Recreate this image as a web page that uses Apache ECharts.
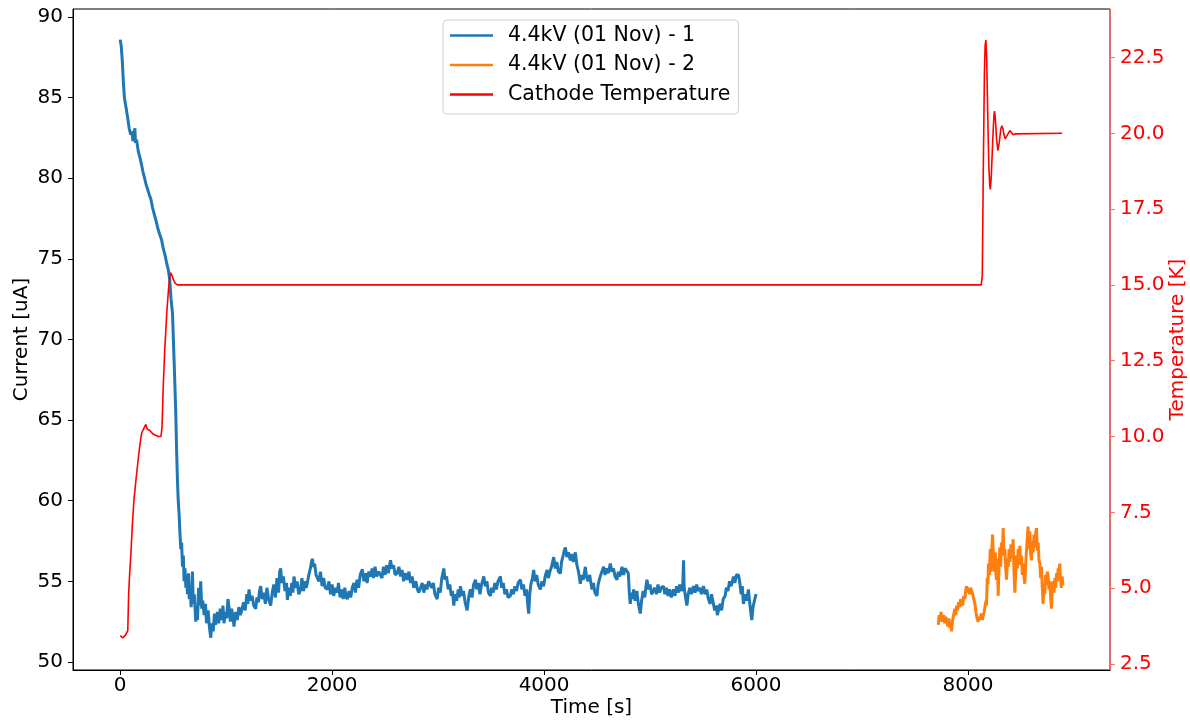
<!DOCTYPE html>
<html>
<head>
<meta charset="utf-8">
<title>Current and Cathode Temperature</title>
<script src="https://cdn.jsdelivr.net/npm/echarts@6/dist/echarts.min.js"></script>
<style>
  html, body { margin: 0; padding: 0; background: #fff; }
  #main { width: 1190px; height: 723px; }
</style>
</head>
<body>
<div id="main"></div>
<script>
// tick labels
const timeTicks = [0, 2000, 4000, 6000, 8000];
const currentTicks = [50, 55, 60, 65, 70, 75, 80, 85, 90];
const tempTicks = [2.5, 5, 7.5, 10, 12.5, 15, 17.5, 20, 22.5];

// 4.4kV (01 Nov) - 1 : [time s, current uA]
const run1 = [
  [0,88.6],[10,88.2],[20,87.3],[30,86.0],[40,85.0],[55,84.4],[70,83.8],[85,83.1],[100,82.7],[112,82.9],
  [120,82.3],[130,82.8],[139,83.1],[145,82.2],[155,82.4],[170,81.7],[186,81.3],[200,80.9],[215,80.4],[227,80.1],
  [245,79.6],[260,79.3],[274,79.0],[290,78.7],[305,78.2],[320,77.8],[337,77.4],[355,76.9],[374,76.5],[390,76.2],
  [405,75.7],[421,75.3],[440,74.7],[455,74.3],[468,73.7],[480,72.5],[494,71.6],[510,68.5],[525,65.4],[533,63.0],
  [541,61.2],[548,60.0],[556,59.2],[564,58.0],[572,57.0],[580,57.4],[588,55.9],[596,56.6],[603,55.0],[612,55.8],
  [620,54.6],[628,55.2],[635,54.2],[645,55.5],[652,53.9],[660,54.5],[670,53.4],[682,55.6],[690,53.6],[700,54.2],
  [713,52.5],[722,53.2],[730,52.6],[740,54.6],[750,53.5],[760,55.0],[770,53.3],[780,53.8],[792,52.9],[805,53.6],
  [815,52.4],[830,53.2],[843,52.1],[855,51.5],[865,52.4],[878,51.9],[890,53.0],[900,52.3],[918,53.1],[930,52.4],
  [945,53.3],[960,52.6],[970,53.5],[980,52.4],[993,53.1],[1005,52.7],[1017,53.9],[1027,53.4],[1040,52.5],[1052,53.3],
  [1064,52.8],[1074,52.2],[1090,53.1],[1105,52.6],[1120,53.4],[1135,52.9],[1153,53.0],[1165,53.7],[1180,53.2],[1195,54.2],
  [1205,53.6],[1216,54.5],[1230,53.8],[1245,54.1],[1260,53.5],[1279,53.3],[1290,54.0],[1305,53.7],[1315,54.4],[1326,54.7],
  [1340,53.9],[1355,54.3],[1370,53.6],[1385,54.6],[1400,53.9],[1420,53.5],[1435,54.3],[1450,54.8],[1465,54.0],[1480,55.2],
  [1495,54.3],[1505,55.6],[1515,55.8],[1525,54.9],[1540,55.3],[1555,54.4],[1570,54.9],[1578,53.85],[1590,54.6],[1605,54.1],
  [1620,54.9],[1630,54.3],[1640,55.3],[1655,54.6],[1670,55.0],[1685,54.2],[1703,54.5],[1715,55.2],[1730,54.4],[1745,55.0],
  [1755,54.6],[1766,54.9],[1780,55.4],[1795,55.8],[1805,56.2],[1813,56.4],[1825,55.9],[1835,56.1],[1848,55.4],[1860,55.5],
  [1875,55.0],[1890,55.6],[1905,54.7],[1920,55.2],[1935,54.6],[1955,54.5],[1970,55.0],[1985,54.2],[2000,54.8],[2015,54.1],
  [2030,54.6],[2049,54.3],[2060,54.9],[2075,54.0],[2090,54.5],[2105,53.9],[2120,54.6],[2130,54.1],[2143,53.9],[2160,54.4],
  [2175,54.0],[2190,54.6],[2206,54.9],[2220,54.3],[2235,55.1],[2250,54.6],[2265,55.4],[2285,55.75],[2300,55.0],[2315,55.5],
  [2330,54.9],[2345,55.6],[2363,55.3],[2378,55.8],[2390,55.2],[2405,55.9],[2420,55.3],[2440,55.6],[2457,55.7],[2470,55.2],
  [2485,55.9],[2500,55.4],[2515,56.0],[2530,55.5],[2551,56.3],[2565,55.8],[2580,56.0],[2595,55.4],[2614,55.5],[2630,55.9],
  [2646,55.3],[2660,55.7],[2675,55.0],[2690,55.5],[2709,55.1],[2725,55.6],[2740,54.9],[2755,55.3],[2770,54.6],[2790,55.0],
  [2805,54.5],[2818,54.3],[2834,54.4],[2850,54.9],[2865,54.3],[2880,54.8],[2895,54.5],[2910,55.0],[2928,55.1],[2940,54.6],
  [2955,54.9],[2970,54.2],[2991,53.9],[3005,54.6],[3020,54.3],[3035,55.2],[3054,55.8],[3065,55.1],[3080,55.3],[3095,54.5],
  [3110,54.8],[3125,54.1],[3135,54.4],[3148,53.5],[3160,54.2],[3175,53.8],[3190,54.5],[3200,54.0],[3211,54.7],[3225,54.1],
  [3240,54.4],[3255,53.7],[3274,53.2],[3290,54.1],[3305,54.5],[3320,54.0],[3335,54.8],[3353,55.1],[3365,54.5],[3380,54.9],
  [3395,54.2],[3410,54.8],[3431,55.3],[3445,54.7],[3460,55.0],[3475,54.3],[3494,54.1],[3505,54.6],[3520,54.3],[3535,54.9],
  [3550,54.5],[3565,55.0],[3588,55.3],[3600,54.6],[3615,54.9],[3630,54.2],[3645,54.5],[3660,54.0],[3682,54.1],[3695,54.5],
  [3710,54.2],[3725,54.7],[3740,54.4],[3755,54.9],[3777,55.1],[3790,54.5],[3805,54.8],[3820,54.1],[3835,54.5],[3845,53.6],
  [3855,53.0],[3865,54.2],[3875,54.8],[3890,55.2],[3902,55.7],[3915,55.0],[3930,55.4],[3945,54.8],[3965,54.5],[3980,55.0],
  [3995,54.7],[4010,55.3],[4028,55.7],[4040,55.2],[4055,55.6],[4070,55.9],[4091,56.5],[4105,55.8],[4120,56.2],[4135,55.6],
  [4154,55.5],[4165,56.2],[4180,56.6],[4190,56.9],[4201,57.1],[4215,56.5],[4230,56.8],[4248,56.3],[4260,56.7],[4275,56.2],
  [4295,56.8],[4310,56.0],[4325,55.6],[4342,54.85],[4355,55.4],[4370,55.1],[4389,55.9],[4400,55.3],[4415,55.0],[4430,55.4],
  [4452,54.5],[4465,54.9],[4480,54.3],[4499,54.1],[4510,54.8],[4525,55.2],[4540,55.5],[4562,55.9],[4575,55.4],[4590,55.8],
  [4605,55.5],[4625,56.1],[4640,55.6],[4655,55.8],[4670,55.3],[4688,55.1],[4700,55.6],[4715,55.3],[4735,55.9],[4750,55.4],
  [4765,55.8],[4782,55.7],[4795,55.5],[4805,54.2],[4813,53.6],[4825,54.3],[4835,53.9],[4845,54.5],[4860,53.8],[4875,54.4],
  [4890,53.6],[4908,53.0],[4920,53.8],[4935,54.4],[4950,54.0],[4960,54.6],[4971,55.1],[4985,54.5],[5000,54.8],[5015,54.2],
  [5033,54.1],[5045,54.6],[5060,54.2],[5075,54.8],[5090,54.3],[5105,54.6],[5127,54.7],[5140,54.2],[5155,54.6],[5170,54.1],
  [5185,54.5],[5200,54.0],[5222,54.5],[5235,54.1],[5250,54.7],[5265,54.3],[5280,54.8],[5295,54.4],[5308,54.6],[5316,56.3],
  [5322,54.6],[5335,54.0],[5348,53.5],[5360,54.2],[5375,54.6],[5390,54.2],[5410,54.7],[5425,54.3],[5440,54.8],[5455,54.4],
  [5470,54.6],[5485,54.2],[5504,54.7],[5520,54.2],[5535,54.5],[5550,53.9],[5567,53.6],[5580,54.2],[5595,53.7],[5610,53.2],
  [5625,53.5],[5635,52.9],[5646,53.0],[5660,53.6],[5675,53.2],[5690,53.9],[5709,54.1],[5720,54.6],[5735,54.4],[5750,55.0],
  [5765,54.7],[5787,55.3],[5800,54.9],[5815,55.4],[5834,55.4],[5845,55.0],[5860,54.2],[5870,54.7],[5881,53.6],[5895,54.2],
  [5910,53.8],[5928,54.5],[5940,53.7],[5950,53.1],[5960,52.6],[5972,53.4],[5985,53.8],[6000,54.2]
];

// 4.4kV (01 Nov) - 2
const run2 = [
  [7720,52.3],[7728,52.9],[7736,52.5],[7745,53.1],[7751,53.0],[7760,52.5],[7770,52.9],[7780,52.4],[7790,52.8],[7798,52.6],
  [7810,52.2],[7820,52.7],[7830,52.1],[7838,52.4],[7845,51.9],[7855,52.6],[7865,52.9],[7875,53.3],[7885,52.9],[7892,53.5],
  [7902,53.2],[7912,53.7],[7922,53.4],[7930,53.9],[7939,53.8],[7950,53.5],[7960,54.1],[7970,53.9],[7980,54.5],[7987,54.7],
  [7995,54.3],[8005,54.6],[8015,54.2],[8025,54.6],[8034,54.5],[8045,54.2],[8055,53.9],[8065,53.6],[8075,53.1],[8085,52.7],
  [8096,52.5],[8105,52.8],[8115,52.6],[8125,53.0],[8135,52.6],[8143,52.7],[8152,53.1],[8162,53.0],[8170,53.8],[8175,53.5],
  [8182,55.2],[8188,54.8],[8194,56.1],[8202,55.4],[8210,57.0],[8218,55.6],[8226,57.2],[8232,57.9],[8240,56.3],[8250,55.6],
  [8258,56.8],[8264,55.4],[8269,55.1],[8277,56.4],[8285,54.1],[8293,56.0],[8300,57.1],[8308,55.9],[8316,57.4],[8324,56.6],
  [8332,58.3],[8340,56.7],[8348,57.0],[8356,55.8],[8364,55.1],[8372,56.4],[8380,55.9],[8388,57.0],[8396,56.2],[8405,57.3],
  [8414,56.4],[8426,57.6],[8434,55.6],[8442,54.3],[8450,55.5],[8458,56.6],[8466,55.8],[8474,57.0],[8482,56.3],[8489,57.2],
  [8497,56.0],[8505,56.6],[8513,55.4],[8520,56.1],[8528,55.3],[8536,54.85],[8544,56.0],[8552,56.9],[8560,57.7],[8567,58.4],
  [8575,57.0],[8583,58.1],[8591,56.7],[8599,56.3],[8607,57.5],[8615,56.8],[8623,57.9],[8631,57.1],[8639,58.0],[8646,58.3],
  [8654,56.9],[8662,57.4],[8670,56.3],[8678,56.1],[8686,55.2],[8694,55.9],[8701,54.6],[8709,53.6],[8717,54.8],[8725,54.2],
  [8733,55.4],[8741,54.8],[8748,55.6],[8756,55.3],[8764,54.5],[8772,55.0],[8780,54.0],[8788,53.3],[8796,54.6],[8804,55.0],
  [8812,54.3],[8820,55.2],[8828,54.6],[8835,55.5],[8843,55.0],[8851,55.8],[8858,55.3],[8866,56.1],[8872,55.2],[8880,54.6],
  [8888,55.3],[8897,54.75]
];

// Cathode Temperature : [time s, K]
const cathodeTemp = [
  [0,3.43],[15,3.38],[25,3.36],[35,3.42],[50,3.45],[65,3.48],[72,3.6],[80,4.8],[90,5.5],[101,6.1],
  [115,7.1],[130,7.9],[150,8.6],[175,9.4],[195,9.95],[204,10.13],[215,10.2],[228,10.25],[242,10.4],[255,10.25],
  [265,10.3],[280,10.2],[292,10.25],[305,10.1],[318,10.15],[330,10.05],[345,10.1],[360,10.0],[372,10.05],[385,10.0],
  [395,10.3],[405,11.5],[420,12.8],[440,14.1],[455,14.8],[468,15.3],[478,15.4],[490,15.3],[505,15.15],[520,15.05],
  [541,15.0],[8125,15.0],[8135,15.3],[8145,19.0],[8155,22.0],[8162,22.9],[8169,23.08],[8177,22.4],[8187,20.5],[8197,18.9],
  [8205,18.3],[8211,18.15],[8220,18.6],[8235,19.9],[8245,20.6],[8251,20.73],[8258,20.5],[8270,19.8],[8282,19.43],[8295,19.7],
  [8310,20.15],[8320,20.25],[8330,20.15],[8340,19.95],[8351,19.82],[8365,19.85],[8380,20.0],[8395,20.09],[8410,20.03],[8426,19.95],
  [8445,19.98],[8460,20.02],[8888,20.0]
];

const chart = echarts.init(document.getElementById('main'));
const font = 'DejaVu Sans';
const fs = 20;

const option = {
  animation: false,
  backgroundColor: '#fff',
  grid: {
    left: 73, right: 80, top: 9, bottom: 53,
    show: true, borderColor: '#000', borderWidth: 1,
    outerBoundsMode: 'none'
  },
  legend: {
    orient: 'vertical',
    left: 443, top: 20,
    icon: 'rect',
    itemWidth: 43, itemHeight: 2.5,
    itemGap: 8.5,
    padding: [5, 8, 9, 7],
    borderColor: '#d0d0d0', borderWidth: 1, borderRadius: 4,
    backgroundColor: 'rgba(255,255,255,0.8)',
    textStyle: { fontFamily: font, fontSize: 20.5, color: '#000', padding: [0, 0, 0, 10] },
    data: ['4.4kV (01 Nov) - 1', '4.4kV (01 Nov) - 2', 'Cathode Temperature']
  },
  xAxis: {
    type: 'value',
    min: -445, max: 9340,
    name: 'Time [s]', nameLocation: 'middle', nameGap: 28, nameMoveOverlap: false,
    nameTextStyle: { fontFamily: font, fontSize: fs, color: '#000' },
    axisLine: { show: true, onZero: false, lineStyle: { color: '#000' } },
    axisTick: { show: true, length: 5, customValues: timeTicks, lineStyle: { color: '#000' } },
    axisLabel: {
      customValues: timeTicks, margin: 6, fontFamily: font, fontSize: fs, color: '#000',
      formatter: v => String(v)
    },
    splitLine: { show: false }
  },
  yAxis: [
    {
      type: 'value',
      min: 49.5, max: 90.5,
      name: 'Current [uA]', nameLocation: 'middle', nameGap: 41, nameMoveOverlap: false,
      nameTextStyle: { fontFamily: font, fontSize: fs, color: '#000' },
      axisLine: { show: true, onZero: false, lineStyle: { color: '#000' } },
      axisTick: { show: true, length: 5, customValues: currentTicks, lineStyle: { color: '#000' } },
      axisLabel: { customValues: currentTicks, margin: 10, fontFamily: font, fontSize: fs, color: '#000' },
      splitLine: { show: false }
    },
    {
      type: 'value',
      position: 'right',
      min: 2.3, max: 24.1,
      name: 'Temperature [K]', nameLocation: 'middle', nameGap: 58, nameMoveOverlap: false,
      nameTextStyle: { fontFamily: font, fontSize: fs, color: 'red' },
      axisLine: { show: true, onZero: false, lineStyle: { color: '#ff6a6a', width: 1.5 } },
      axisTick: { show: true, length: 5, customValues: tempTicks, lineStyle: { color: '#ff6a6a' } },
      axisLabel: {
        customValues: tempTicks, margin: 10, fontFamily: font, fontSize: fs, color: 'red',
        formatter: v => v.toFixed(1)
      },
      splitLine: { show: false }
    }
  ],
  series: [
    {
      name: '4.4kV (01 Nov) - 1', type: 'line', yAxisIndex: 0,
      data: run1, showSymbol: false, symbol: 'none',
      color: '#1f77b4', lineStyle: { color: '#1f77b4', width: 3 }
    },
    {
      name: '4.4kV (01 Nov) - 2', type: 'line', yAxisIndex: 0,
      data: run2, showSymbol: false, symbol: 'none',
      color: '#ff7f0e', lineStyle: { color: '#ff7f0e', width: 3 }
    },
    {
      name: 'Cathode Temperature', type: 'line', yAxisIndex: 1,
      data: cathodeTemp, showSymbol: false, symbol: 'none',
      color: 'red', lineStyle: { color: 'red', width: 1.6 }
    }
  ]
};

chart.setOption(option);
</script>
</body>
</html>
